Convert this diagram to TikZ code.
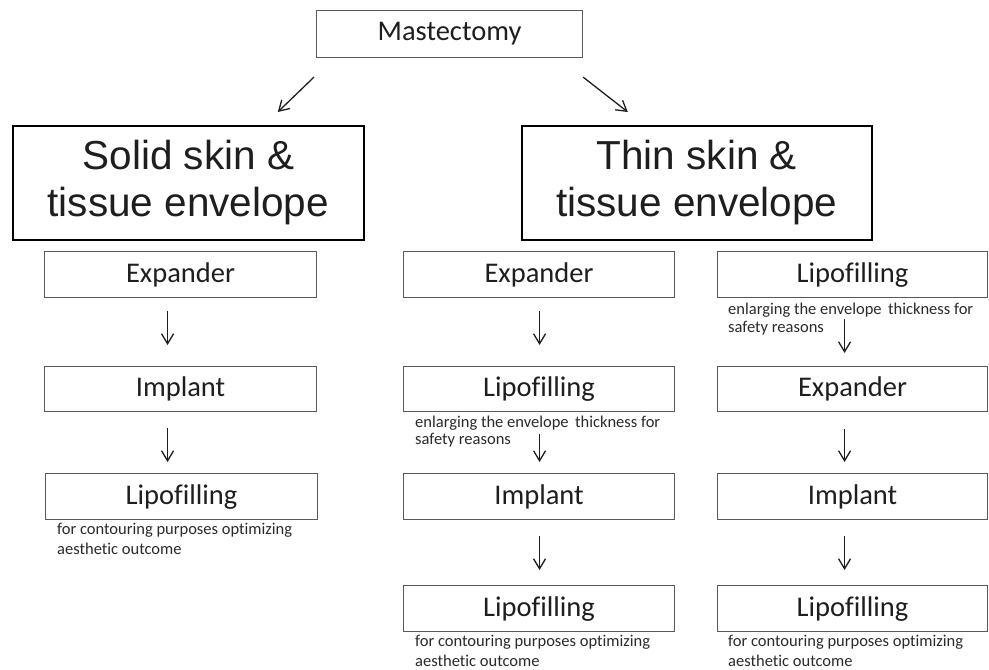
\documentclass[tikz,border=0pt]{standalone}
\usepackage{fontspec}
\setmainfont{Carlito}[Ligatures={NoCommon}]
\newfontfamily\arialf{Liberation Sans}
\usetikzlibrary{arrows.meta,calc}
\definecolor{boxgray}{HTML}{595959}
\definecolor{ink}{HTML}{1E1E1E}
\definecolor{noteink}{HTML}{2A2A2A}
\begin{document}
\begin{tikzpicture}[x=1pt,y=-1pt,
  box/.style={draw=boxgray, line width=1.1pt, anchor=north west, inner sep=0pt, text=ink,
    minimum height=46pt, minimum width=#1, font=\fontsize{28.5}{30}\selectfont},
  box/.default=271pt,
  bigbox/.style={draw=black, line width=1.6pt, anchor=north west, inner sep=0pt, text=ink,
    align=center, minimum height=114pt, minimum width=#1, font=\arialf\fontsize{40.5}{47}\selectfont},
  note/.style={anchor=north west, inner sep=0pt, align=left, text=noteink,
    font=\fontsize{16.5}{#1}\selectfont},
  arr/.style={draw=ink, line width=1.3pt, -{Straight Barb[length=10pt,width=12pt]}},
]
\useasboundingbox (0,0) rectangle (989,670);

% top
\node[box=266pt, minimum height=47pt] (m) at (316,10) {Mastectomy};
\node[bigbox=351pt] (solid) at (12,125) {Solid skin \&\\tissue envelope};
\node[bigbox=350pt] (thin) at (521,125) {Thin skin \&\\tissue envelope};

% left column
\node[box=272pt] (e1) at (44,251) {Expander};
\node[box=272pt, minimum height=45pt] (i1) at (44,366) {Implant};
\node[box=272pt] (l1) at (45,473) {Lipofilling};
\node[note=19.5pt] (n1) at (57,523) {for contouring purposes optimizing\\aesthetic outcome};

% middle column
\node[box] (e2) at (403,251) {Expander};
\node[box, minimum height=45pt] (l2) at (403,366) {Lipofilling};
\node[note=17.5pt] (n2) at (415,415.5) {enlarging the envelope\, thickness for\\safety reasons};
\node[box] (i2) at (403,473) {Implant};
\node[box] (l3) at (403,585) {Lipofilling};
\node[note=19.5pt] (n4) at (415,635) {for contouring purposes optimizing\\aesthetic outcome};

% right column
\node[box=270pt] (l4) at (717,251) {Lipofilling};
\node[note=17.5pt] (n3) at (728,303) {enlarging the envelope\, thickness for\\safety reasons};
\node[box=270pt, minimum height=45pt] (e3) at (717,366) {Expander};
\node[box=270pt] (i3) at (717,473) {Implant};
\node[box=270pt] (l5) at (717,585) {Lipofilling};
\node[note=19.5pt] (n5) at (728,635) {for contouring purposes optimizing\\aesthetic outcome};

% diagonal arrows
\draw[arr] ([shift={(-2,19)}]m.south west) -- ([shift={(89.5,-13)}]solid.north);
\draw[arr] ([shift={(0,19)}]m.south east) -- ([shift={(-69,-13)}]thin.north);

% left column arrows
\draw[arr] ([shift={(-13,13)}]e1.south) -- ([shift={(-13,-21)}]i1.north);
\draw[arr] ([shift={(-13,16)}]i1.south) -- ([shift={(-14,-11)}]l1.north);

% middle column arrows
\draw[arr] ([shift={(0.5,13)}]e2.south) -- ([shift={(0.5,-21)}]l2.north);
\draw[arr] ([shift={(0.5,22)}]l2.south) -- ([shift={(0.5,-11)}]i2.north);
\draw[arr] ([shift={(0.5,16)}]i2.south) -- ([shift={(0.5,-15)}]l3.north);

% right column arrows
\draw[arr] ([shift={(-8,21)}]l4.south) -- ([shift={(-8,-13)}]e3.north);
\draw[arr] ([shift={(-8,17)}]e3.south) -- ([shift={(-8,-11)}]i3.north);
\draw[arr] ([shift={(-8,16)}]i3.south) -- ([shift={(-8,-15)}]l5.north);
\end{tikzpicture}
\end{document}
